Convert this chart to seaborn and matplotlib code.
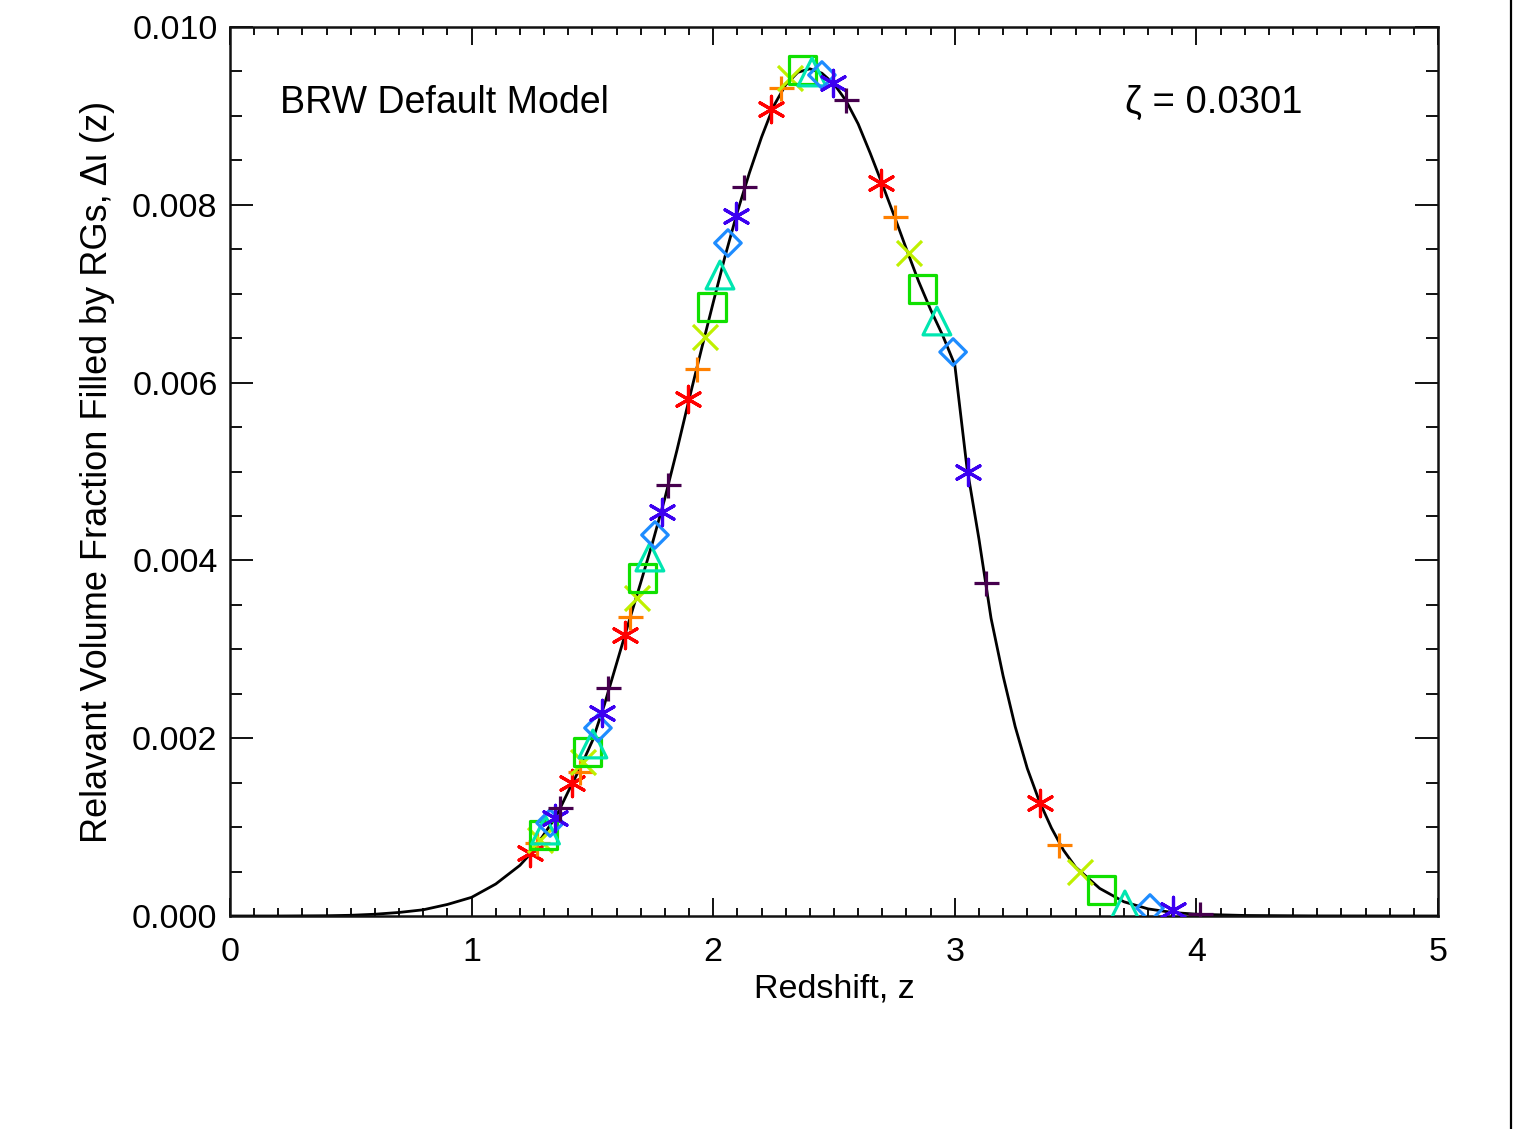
import numpy as np
import pandas as pd
import matplotlib
matplotlib.use("Agg")
import matplotlib.pyplot as plt
from matplotlib.lines import Line2D
from matplotlib.ticker import MultipleLocator, FormatStrFormatter
import seaborn as sns

# ---- data ----
curve_z = [0.0, 0.2, 0.4, 0.5, 0.6, 0.7, 0.8, 0.9, 1.0, 1.1, 1.2, 1.25, 1.3, 1.35,
           1.4, 1.45, 1.5, 1.55, 1.6, 1.65, 1.7, 1.75, 1.8, 1.85, 1.9, 1.95, 2.0,
           2.05, 2.1, 2.15, 2.2, 2.25, 2.3, 2.35, 2.4, 2.45, 2.5, 2.55, 2.6, 2.65,
           2.7, 2.75, 2.8, 2.85, 2.9, 2.95, 3.0, 3.05, 3.1, 3.15, 3.2, 3.25, 3.3,
           3.35, 3.4, 3.45, 3.5, 3.6, 3.7, 3.8, 3.9, 4.0, 4.2, 4.5, 5.0]
curve_v = [0.0, 0.0, 0.000003, 0.000008, 0.00002, 0.00004, 0.00007, 0.00013, 0.00021,
           0.00036, 0.00057, 0.00072, 0.00092, 0.00112, 0.00140, 0.00167, 0.00197,
           0.00238, 0.00284, 0.00330, 0.00375, 0.00421, 0.00470, 0.00524, 0.00581,
           0.00636, 0.00690, 0.00743, 0.00792, 0.00836, 0.00876, 0.00911, 0.00935,
           0.00949, 0.00953, 0.00948, 0.00936, 0.00917, 0.00891, 0.00858, 0.00823,
           0.00787, 0.00750, 0.00714, 0.00682, 0.00653, 0.00620, 0.00505, 0.00424,
           0.00335, 0.00270, 0.00213, 0.00166, 0.00129, 0.00099, 0.00074, 0.00055,
           0.00031, 0.00016, 0.00008, 0.00004, 0.00002, 0.000006, 0.000001, 0.0]

# marker groups: each row = 8 points in order
# (red asterisk, orange plus, yellow-green x, green square,
#  cyan triangle, azure diamond, blue asterisk, purple plus)
mark_z = [
    [1.242, 1.271, 1.283, 1.296, 1.306, 1.325, 1.345, 1.366],
    [1.416, 1.449, 1.461, 1.478, 1.502, 1.523, 1.540, 1.565],
    [1.635, 1.656, 1.685, 1.709, 1.738, 1.759, 1.788, 1.813],
    [1.896, 1.933, 1.966, 1.995, 2.028, 2.061, 2.094, 2.127],
    [2.239, 2.281, 2.318, 2.368, 2.409, 2.450, 2.496, 2.550],
    [2.695, 2.752, 2.810, 2.868, 2.926, 2.993, 3.055, 3.129],
    [3.353, 3.431, 3.518, 3.609, 3.704, 3.808, 3.903, 4.015],
]
mark_v = [
    [0.000709, 0.000821, 0.000855, 0.000911, 0.000967, 0.001046, 0.001102, 0.001215],
    [0.001496, 0.001620, 0.001732, 0.001845, 0.001935, 0.002115, 0.002283, 0.002565],
    [0.003161, 0.003363, 0.003577, 0.003802, 0.004038, 0.004286, 0.004544, 0.004848],
    [0.005816, 0.006153, 0.006513, 0.006850, 0.007210, 0.007570, 0.007874, 0.008200],
    [0.009078, 0.009314, 0.009426, 0.009516, 0.009494, 0.009460, 0.009370, 0.009179],
    [0.008245, 0.007863, 0.007458, 0.007053, 0.006693, 0.006344, 0.004994, 0.003746],
    [0.001271, 0.000799, 0.000495, 0.000292, 0.000124, 0.000090, 0.000067, 0.000022],
]
mark_colors = ["#FF0000", "#FF8000", "#BFF000", "#10E000",
               "#00E6B0", "#1E8CFF", "#3C00F0", "#46004E"]
mark_shapes = [(6, 2, 0), "+", "x", "s", "^", "D", (6, 2, 0), "+"]
mark_sizes = [19, 18, 18, 19.5, 20, 13.5, 19, 18]

x_ticks = [0, 1, 2, 3, 4, 5]
y_ticks = [0.000, 0.002, 0.004, 0.006, 0.008, 0.010]

# ---- style ----
sns.set_style("ticks")
plt.rcParams["font.family"] = ["Liberation Sans", "DejaVu Sans"]
plt.rcParams["text.color"] = "black"
plt.rcParams["axes.labelcolor"] = "black"
plt.rcParams["xtick.color"] = "black"
plt.rcParams["ytick.color"] = "black"

fig = plt.figure(figsize=(15.13, 11.29), dpi=100)
ax = fig.add_axes([230 / 1513, 1 - 916 / 1129, (1438 - 230) / 1513, (916 - 27) / 1129])

sns.lineplot(x=curve_z, y=curve_v, color="black", linewidth=2.0, sort=False,
             estimator=None, ax=ax, zorder=2)

for i in range(8):
    zs = [g[i] for g in mark_z]
    vs = [g[i] for g in mark_v]
    shp = mark_shapes[i]
    ms = matplotlib.markers.MarkerStyle(shp)
    if ms.is_filled():
        sns.scatterplot(x=zs, y=vs, marker=shp, s=mark_sizes[i] ** 2, color=mark_colors[i],
                        facecolor="none", edgecolor=mark_colors[i], linewidth=2.3,
                        ax=ax, zorder=3)
    else:
        sns.scatterplot(x=zs, y=vs, marker=shp, s=mark_sizes[i] ** 2, color=mark_colors[i],
                        linewidth=2.3, ax=ax, zorder=3)

ax.set_xlim(0, 5)
ax.set_ylim(0, 0.010)
ax.set_xticks(x_ticks)
ax.set_yticks(y_ticks)
ax.xaxis.set_minor_locator(MultipleLocator(0.1))
ax.yaxis.set_minor_locator(MultipleLocator(0.0005))
ax.yaxis.set_major_formatter(FormatStrFormatter("%.3f"))
ax.xaxis.set_major_formatter(FormatStrFormatter("%d"))

for s in ax.spines.values():
    s.set_visible(True)
    s.set_linewidth(1.8)
    s.set_color("#111111")

ax.tick_params(axis="x", which="major", direction="in", length=13, width=1.4,
               top=True, bottom=True, labelsize=24.5, pad=15, color="#111111")
ax.tick_params(axis="x", which="minor", direction="in", length=6, width=1.4,
               top=True, bottom=True, color="#111111")
ax.tick_params(axis="y", which="major", direction="in", length=16.5, width=1.4,
               left=True, right=True, labelsize=24.5, pad=9, color="#111111")
ax.tick_params(axis="y", which="minor", direction="in", length=8.6, width=1.4,
               left=True, right=True, color="#111111")

ax.set_xlabel("Redshift, z", fontsize=24.5, labelpad=4)
ax.set_ylabel("Relavant Volume Fraction Filled by RGs, \u0394\u03b9 (z)", fontsize=26, labelpad=12)

ax.text(0.207, 0.00915, "BRW Default Model", fontsize=27, ha="left", va="center")
ax.text(3.704, 0.00915, "\u03b6 = 0.0301", fontsize=27.5, ha="left", va="center")

fig.add_artist(Line2D([1510.5 / 1513, 1510.5 / 1513], [0, 1], color="black",
                      linewidth=1.6, transform=fig.transFigure))

fig.savefig("out.png", dpi=100, facecolor="white")
